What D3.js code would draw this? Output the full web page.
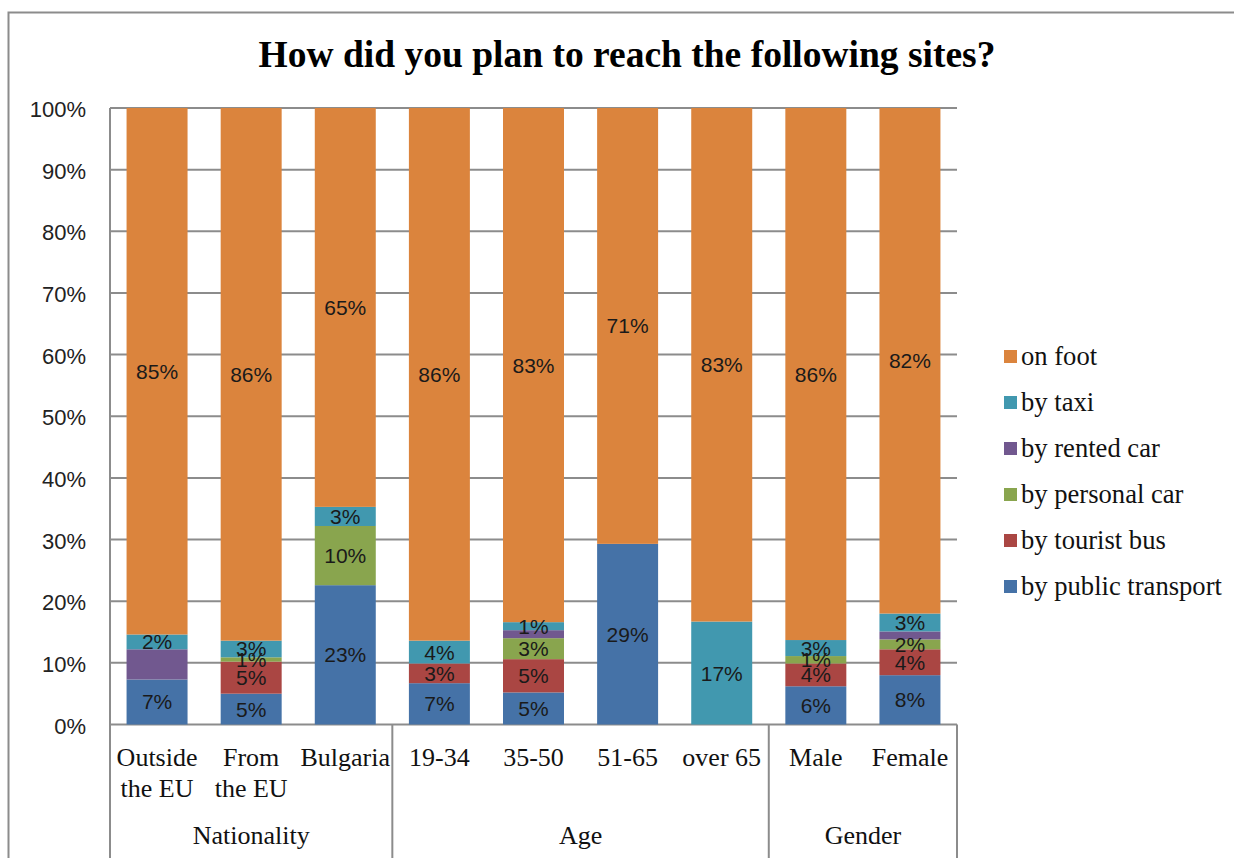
<!DOCTYPE html>
<html>
<head>
<meta charset="utf-8">
<script src="https://cdn.jsdelivr.net/npm/d3@7"></script>
<style>
  html, body { margin: 0; padding: 0; background: #fff; }
  svg { display: block; }
</style>
</head>
<body>
<svg id="chart" width="1234" height="858"></svg>
<script>
// Categories (first line / second line) and their groups
const categories = ["Outside the EU", "From the EU", "Bulgaria", "19-34", "35-50", "51-65", "over 65", "Male", "Female"];
const categoryLines = [["Outside", "the EU"], ["From", "the EU"], ["Bulgaria"], ["19-34"], ["35-50"], ["51-65"], ["over 65"], ["Male"], ["Female"]];
const groupNames = ["Nationality", "Age", "Gender"];
const groupSizes = [3, 4, 2];

// Series, bottom to top of each stack (percent of respondents)
const seriesNames = ["by public transport", "by tourist bus", "by personal car", "by rented car", "by taxi", "on foot"];
const publicTransport = [7.3, 5.0, 22.6, 6.7, 5.2, 29.3, 0, 6.2, 8.0];
const touristBus      = [0,   5.2, 0,    3.2, 5.4, 0,    0, 3.7, 4.2];
const personalCar     = [0,   0.7, 9.6,  0,   3.4, 0,    0, 1.2, 1.6];
const rentedCar       = [4.9, 0,   0,    0,   1.3, 0,    0, 0,   1.3];
const byTaxi          = [2.4, 2.7, 3.1,  3.7, 1.3, 0,   16.7, 2.6, 2.9];
const onFoot          = [85.4, 86.4, 64.7, 86.4, 83.4, 70.7, 83.3, 86.3, 82.0];
const seriesValues = [publicTransport, touristBus, personalCar, rentedCar, byTaxi, onFoot];
const seriesColors = ["#4572A7", "#AA4643", "#89A54E", "#71588F", "#4198AF", "#DB843D"];
const seriesLabelled = [true, true, true, false, true, true];

const yTicks = [0, 10, 20, 30, 40, 50, 60, 70, 80, 90, 100];

const svg = d3.select("#chart");
const plot = { left: 110, right: 957, top: 108, bottom: 724.5 };
const gridColor = "#8C8C8C";
const sansFont = "'Liberation Sans', Arial, sans-serif";
const serifFont = "'Liberation Serif', 'Times New Roman', serif";

// Outer frame
svg.append("rect")
  .attr("x", 8.5).attr("y", 12.5)
  .attr("width", 1250).attr("height", 870)
  .attr("fill", "#fff").attr("stroke", gridColor).attr("stroke-width", 2);

// Title
svg.append("text")
  .attr("x", 627).attr("y", 67)
  .attr("text-anchor", "middle")
  .attr("font-family", serifFont).attr("font-weight", "bold").attr("font-size", 37.5)
  .attr("fill", "#000")
  .text("How did you plan to reach the following sites?");

// Scales
const x = d3.scaleBand().domain(categories).range([plot.left, plot.right])
  .paddingInner(0.352).paddingOuter(0.176);
const y = d3.scaleLinear().domain([0, 100]).range([plot.bottom, plot.top]);

// Horizontal gridlines
svg.append("g").selectAll("line").data(yTicks).join("line")
  .attr("x1", plot.left).attr("x2", plot.right)
  .attr("y1", d => y(d)).attr("y2", d => y(d))
  .attr("stroke", gridColor).attr("stroke-width", 2);

// Y axis labels
svg.append("g").selectAll("text").data(yTicks).join("text")
  .attr("x", 86).attr("y", d => y(d) + 9)
  .attr("text-anchor", "end")
  .attr("font-family", sansFont).attr("font-size", 22).attr("fill", "#222")
  .text(d => d + "%");

// Stacked bars
const rows = categories.map((c, i) => {
  const r = { category: c };
  seriesNames.forEach((s, k) => { r[s] = seriesValues[k][i]; });
  return r;
});
const stack = d3.stack().keys(seriesNames)(rows);

const layers = svg.append("g").selectAll("g").data(stack).join("g")
  .attr("fill", (d, k) => seriesColors[k]);
layers.selectAll("rect").data(d => d.filter(p => p[1] - p[0] > 0)).join("rect")
  .attr("x", p => x(p.data.category))
  .attr("width", x.bandwidth())
  .attr("y", p => y(p[1]))
  .attr("height", p => y(p[0]) - y(p[1]));

// Data labels
const labelGroup = svg.append("g")
  .attr("font-family", sansFont).attr("font-size", 21).attr("fill", "#1a1a1a")
  .attr("text-anchor", "middle");
stack.forEach((layer, k) => {
  if (!seriesLabelled[k]) return;
  layer.forEach(p => {
    const v = p[1] - p[0];
    if (v <= 0) return;
    labelGroup.append("text")
      .attr("x", x(p.data.category) + x.bandwidth() / 2)
      .attr("y", (y(p[0]) + y(p[1])) / 2 + 7.5)
      .text(Math.round(v) + "%");
  });
});

// Axes lines
svg.append("line")
  .attr("x1", plot.left).attr("x2", plot.left)
  .attr("y1", plot.top).attr("y2", 858)
  .attr("stroke", gridColor).attr("stroke-width", 2);

// Group dividers in the category area
let acc = 0;
const dividerIdx = [0];
groupSizes.forEach(n => { acc += n; dividerIdx.push(acc); });
const step = x.step();
const boundary = i => plot.left + i * step;
svg.append("g").selectAll("line").data(dividerIdx.slice(1)).join("line")
  .attr("x1", d => boundary(d)).attr("x2", d => boundary(d))
  .attr("y1", plot.bottom).attr("y2", 858)
  .attr("stroke", gridColor).attr("stroke-width", 2);

// Category labels
const catLabels = svg.append("g")
  .attr("font-family", serifFont).attr("font-size", 26).attr("fill", "#111")
  .attr("text-anchor", "middle");
categories.forEach((c, i) => {
  const t = catLabels.append("text")
    .attr("x", x(c) + x.bandwidth() / 2).attr("y", 766);
  categoryLines[i].forEach((line, j) => {
    t.append("tspan").attr("x", x(c) + x.bandwidth() / 2).attr("dy", j === 0 ? 0 : 31).text(line);
  });
});

// Group labels
svg.append("g").selectAll("text").data(groupNames).join("text")
  .attr("x", (d, g) => (boundary(dividerIdx[g]) + boundary(dividerIdx[g + 1])) / 2)
  .attr("y", 844)
  .attr("text-anchor", "middle")
  .attr("font-family", serifFont).attr("font-size", 26).attr("fill", "#111")
  .text(d => d);

// Legend, top entry is the top of the stack
const legendOrder = d3.range(seriesNames.length).reverse();
const legend = svg.append("g").selectAll("g").data(legendOrder).join("g")
  .attr("transform", (k, i) => `translate(1004, ${357 + i * 46})`);
legend.append("rect")
  .attr("x", 0).attr("y", -7).attr("width", 13).attr("height", 13)
  .attr("fill", k => seriesColors[k]);
legend.append("text")
  .attr("x", 17).attr("y", 8)
  .attr("font-family", serifFont).attr("font-size", 26.6).attr("fill", "#111")
  .text(k => seriesNames[k]);
</script>
</body>
</html>
